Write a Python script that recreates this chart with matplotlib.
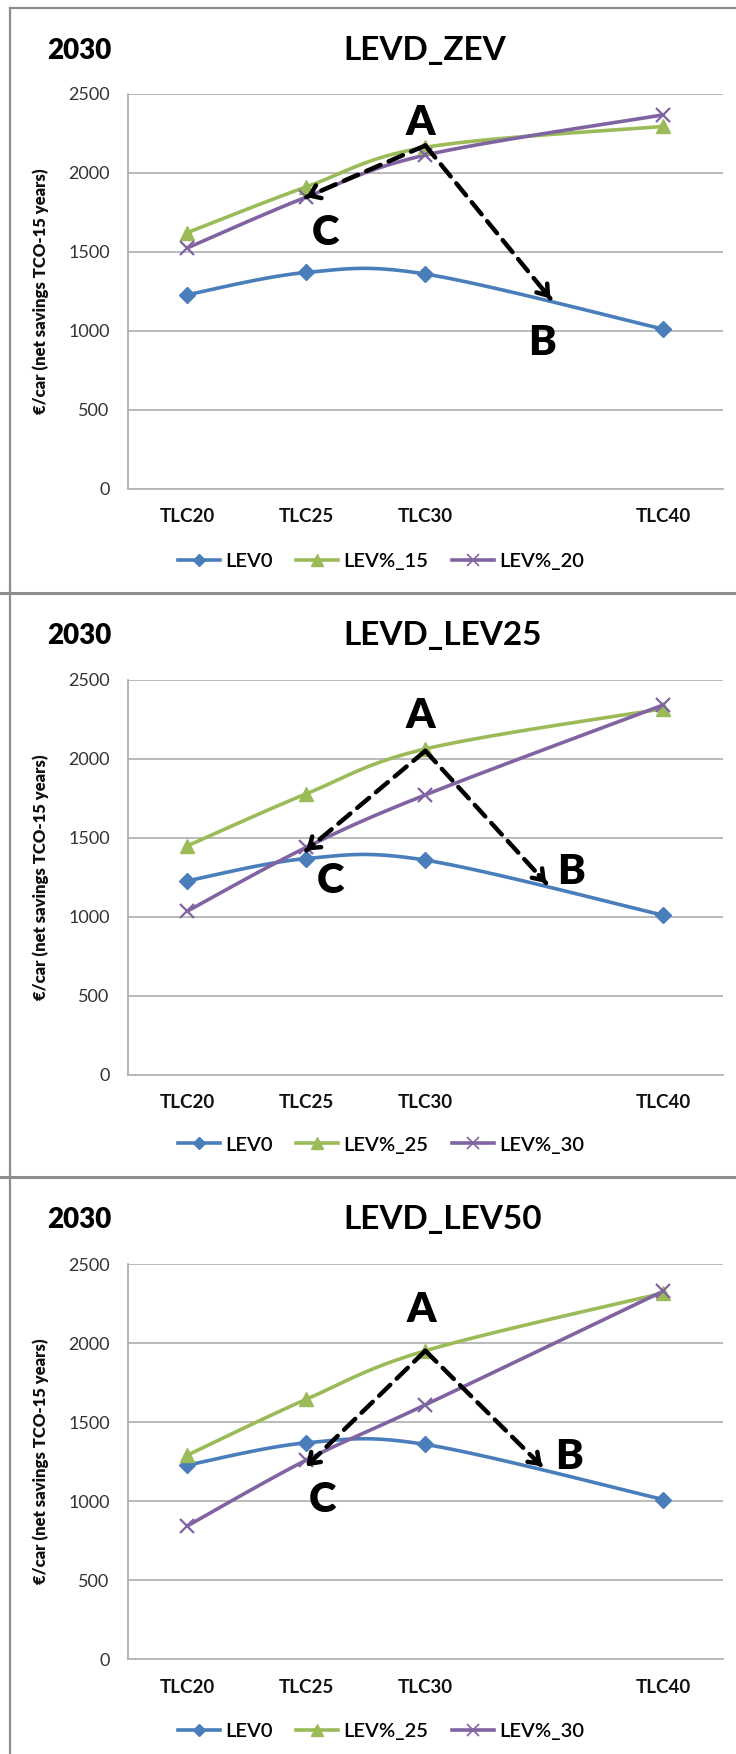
import numpy as np
import matplotlib
matplotlib.use("Agg")
import matplotlib.pyplot as plt
from matplotlib.lines import Line2D

# ---------------- data ----------------
x_vals = [20, 25, 30, 40]
x_labels = ["TLC20", "TLC25", "TLC30", "TLC40"]
year_label = "2030"
titles = ["LEVD_ZEV", "LEVD_LEV25", "LEVD_LEV50"]
series_names = [["LEV0", "LEV%_15", "LEV%_20"],
                ["LEV0", "LEV%_25", "LEV%_30"],
                ["LEV0", "LEV%_25", "LEV%_30"]]
lev0 = [1228, 1369, 1359, 1010]
zev_lev15 = [1621, 1911, 2161, 2294]
zev_lev20 = [1524, 1846, 2112, 2367]
lev25_lev25 = [1449, 1779, 2063, 2318]
lev25_lev30 = [1036, 1440, 1772, 2342]
lev50_lev25 = [1291, 1645, 1952, 2318]
lev50_lev30 = [843, 1260, 1610, 2330]
panel_series = [[lev0, zev_lev15, zev_lev20],
                [lev0, lev25_lev25, lev25_lev30],
                [lev0, lev50_lev25, lev50_lev30]]
y_ticks = [0, 500, 1000, 1500, 2000, 2500]
y_label = "€/car (net savings TCO-15 years)"

# annotation arrows: start (A), end C, end B ; letter positions
arrow_start = [(30, 2173), (30, 2051), (30, 1952)]
arrow_c_end = [(25, 1846), (25, 1420), (25, 1220)]
arrow_b_end = [(35.25, 1204), (35.07, 1214), (34.9, 1220)]
letter_a = [(29.8, 2318), (29.8, 2269), (29.85, 2212)]
letter_c = [(25.8, 1616), (26.0, 1226), (25.66, 1008)]
letter_b = [(34.9, 925), (36.1, 1286), (36.05, 1279)]

# ---------------- style ----------------
colors = ["#4A7EBB", "#9BBB59", "#8064A2"]
markers = ["D", "^", "x"]
msizes = [8.0, 10.5, 10.5]
FONT = "Lato"
W, H = 736, 1754


def smooth(xs, ys, n=40):
    """Excel-like smoothed line (Catmull-Rom Bezier through the points)."""
    P = np.column_stack([xs, ys]).astype(float)
    out = []
    for i in range(len(P) - 1):
        p0 = P[i - 1] if i > 0 else P[i]
        p1 = P[i]
        p2 = P[i + 1]
        p3 = P[i + 2] if i + 2 < len(P) else P[i + 1]
        c1 = p1 + (p2 - p0) / 6.0
        c2 = p2 - (p3 - p1) / 6.0
        t = np.linspace(0, 1, n)[:, None]
        seg = ((1 - t) ** 3) * p1 + 3 * ((1 - t) ** 2) * t * c1 + 3 * (1 - t) * t ** 2 * c2 + t ** 3 * p2
        out.append(seg if i == 0 else seg[1:])
    s = np.vstack(out)
    return s[:, 0], s[:, 1]


fig = plt.figure(figsize=(W / 100, H / 100), dpi=100)
fig.patch.set_facecolor("white")


def fx(px):
    return px / W


def fy(py):
    return 1 - py / H


# panel geometry (pixel coordinates)
ax_left, ax_right = 127.7, 723.0
ax_tops = [93.8, 679.9, 1264.2]
ax_h = 394.9
year_base = [59, 644, 1228]
title_base = [60, 645, 1229]
legend_y = [561, 1145, 1731]

for p in range(3):
    top = ax_tops[p]
    ax = fig.add_axes([fx(ax_left), fy(top + ax_h), (ax_right - ax_left) / W, ax_h / H])
    ax.set_xlim(17.5, 42.5)
    ax.set_ylim(0, 2500)
    ax.set_yticks(y_ticks)
    ax.set_yticklabels([str(v) for v in y_ticks], fontfamily=FONT, fontsize=13, color="#333333")
    ax.set_xticks(x_vals)
    ax.set_xticklabels(x_labels, fontfamily=FONT, fontsize=13.5, fontweight="bold", color="#111111")
    ax.tick_params(axis="both", length=0)
    ax.tick_params(axis="y", pad=13)
    ax.tick_params(axis="x", pad=14)
    ax.grid(axis="y", color="#b4b4b4", lw=1.3)
    ax.set_axisbelow(True)
    for side in ["top", "right"]:
        ax.spines[side].set_visible(False)
    ax.spines["left"].set_color("#a8a8a8")
    ax.spines["left"].set_linewidth(1.2)
    ax.spines["bottom"].set_color("#b4b4b4")
    ax.spines["bottom"].set_linewidth(1.3)
    ax.set_ylabel(y_label, fontfamily=FONT, fontsize=12, fontweight="heavy", color="#111111")
    ax.yaxis.set_label_coords((49 - ax_left) / (ax_right - ax_left), 0.5)

    handles = []
    for k in range(3):
        ys = panel_series[p][k]
        sx, sy = smooth(x_vals, ys)
        ax.plot(sx, sy, color=colors[k], lw=2.6, solid_capstyle="round", zorder=3 + k)
        if markers[k] == "x":
            ax.plot(x_vals, ys, ls="none", marker="x", ms=msizes[k], mew=1.6,
                    color=colors[k], zorder=6 + k)
        else:
            ax.plot(x_vals, ys, ls="none", marker=markers[k], ms=msizes[k],
                    color=colors[k], mec=colors[k], zorder=6 + k)
        handles.append(Line2D([], [], color=colors[k], lw=2.6, marker=markers[k],
                              ms=msizes[k] * 0.8, mew=1.2 if markers[k] == "x" else 1.0,
                              label=series_names[p][k]))

    # dashed arrows A -> C and A -> B
    for end in (arrow_c_end[p], arrow_b_end[p]):
        sxa, sya = arrow_start[p]
        ex, ey = end
        ax.annotate("", xy=(ex, ey), xytext=(sxa, sya),
                    arrowprops=dict(arrowstyle="-", color="black", lw=3.2,
                                    linestyle=(0, (3.5, 2)), shrinkA=0, shrinkB=0),
                    zorder=12)
        hx = ex - (ex - sxa) * 0.06
        hy = ey - (ey - sya) * 0.06
        ax.annotate("", xy=(ex, ey), xytext=(hx, hy),
                    arrowprops=dict(arrowstyle="->,head_length=0.7,head_width=0.5",
                                    color="black", lw=3.2, shrinkA=0, shrinkB=0),
                    zorder=12)
    for (lx, ly), txt in zip([letter_a[p], letter_b[p], letter_c[p]], ["A", "B", "C"]):
        ax.text(lx, ly, txt, fontfamily=FONT, fontsize=30, fontweight="heavy",
                ha="center", va="center", color="black", zorder=13)

    # titles
    fig.text(fx(47), fy(year_base[p]), year_label, fontfamily=FONT, fontsize=20,
             fontweight="heavy", ha="left", va="baseline", color="black")
    fig.text(fx(343), fy(title_base[p]), titles[p], fontfamily=FONT, fontsize=24,
             fontweight="bold", ha="left", va="baseline", color="black")

    fig.legend(handles=handles, loc="center", bbox_to_anchor=(fx(381), fy(legend_y[p])),
               ncol=3, frameon=False, handlelength=2.1, handletextpad=0.25,
               columnspacing=1.15, prop={"family": FONT, "size": 14.5, "weight": "semibold"})

# panel borders
border_col = "#8c8c8c"
fig.add_artist(Line2D([fx(10), fx(10)], [fy(8), fy(1754)], color=border_col, lw=1.6))
fig.add_artist(Line2D([fx(10), fx(736)], [fy(8), fy(8)], color=border_col, lw=1.6))
for yy in [593, 1177]:
    fig.add_artist(Line2D([fx(0), fx(736)], [fy(yy), fy(yy)], color=border_col, lw=2.2))

fig.savefig("out.png", dpi=100, facecolor="white")
